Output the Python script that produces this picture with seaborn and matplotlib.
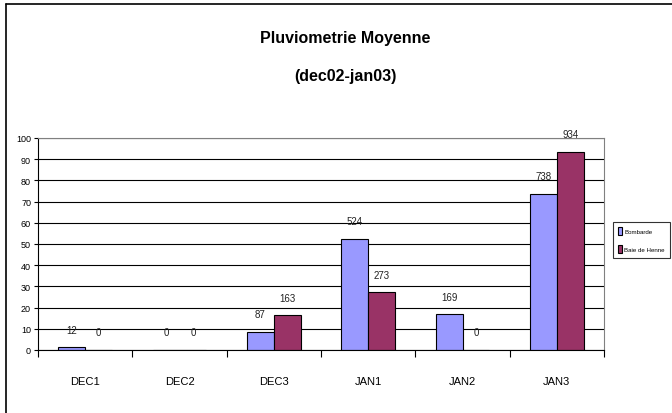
import matplotlib
matplotlib.use("Agg")
import matplotlib.pyplot as plt
import seaborn as sns
import pandas as pd
from matplotlib.lines import Line2D

categories = ["DEC1", "DEC2", "DEC3", "JAN1", "JAN2", "JAN3"]
series_names = ["Bombarde", "Baie de Henne"]
bombarde = [1.2, 0, 8.7, 52.4, 16.9, 73.8]
baie_de_henne = [0, 0, 16.3, 27.3, 0, 93.4]
bombarde_labels = ["12", "0", "87", "524", "169", "738"]
baie_labels = ["0", "0", "163", "273", "0", "934"]
y_ticks = [0, 10, 20, 30, 40, 50, 60, 70, 80, 90, 100]

df = pd.DataFrame({
    "cat": categories * 2,
    "serie": [series_names[0]] * 6 + [series_names[1]] * 6,
    "val": bombarde + baie_de_henne,
})

sns.set_style("white")
plt.rcParams["font.family"] = ["Liberation Sans Narrow", "Liberation Sans", "DejaVu Sans"]
plt.rcParams["text.color"] = "black"
plt.rcParams["xtick.color"] = "black"
plt.rcParams["ytick.color"] = "black"

fig = plt.figure(figsize=(6.72, 4.14), dpi=100)
ax = fig.add_axes([38 / 672, 1 - 351 / 414, (604 - 38) / 672, (351 - 139) / 414])

sns.barplot(data=df, x="cat", y="val", hue="serie", order=categories,
            hue_order=series_names, palette=["#9999FF", "#993366"],
            width=0.57, edgecolor="black", linewidth=0.8, ax=ax, legend=True,
            saturation=1)

for cont, labs in zip(ax.containers, [bombarde_labels, baie_labels]):
    ax.bar_label(cont, labels=labs, padding=9, fontsize=7, color="#222222")

ax.set_ylim(0, 100)
ax.set_xlim(-0.5, 5.5)
ax.set_yticks(y_ticks)
ax.yaxis.grid(True, color="black", linewidth=0.8)
ax.set_axisbelow(True)
ax.set_xlabel("")
ax.set_ylabel("")
ax.tick_params(axis="y", length=3, width=0.8, labelsize=6.5, pad=2, left=True, color="black")
ax.set_xticks(range(len(categories)))
ax.set_xticklabels(categories)
ax.set_xticks([i - 0.5 for i in range(len(categories) + 1)], minor=True)
ax.tick_params(axis="x", which="major", length=0, labelsize=8, pad=19)
ax.tick_params(axis="x", which="minor", length=5, width=0.8, color="black", bottom=True)
for s in ["left", "bottom"]:
    ax.spines[s].set_color("black")
    ax.spines[s].set_linewidth(0.8)
for s in ["top", "right"]:
    ax.spines[s].set_color("#808080")
    ax.spines[s].set_linewidth(0.8)
    ax.spines[s].set_visible(True)

handles, labels = ax.get_legend_handles_labels()
ax.get_legend().remove()
leg = fig.legend(handles, labels, loc="center left",
                 bbox_to_anchor=(613 / 672, 1 - 241 / 414), frameon=True,
                 fancybox=False, edgecolor="black", fontsize=4.4,
                 handlelength=0.75, handleheight=1.6, handletextpad=0.3,
                 borderpad=0.8, labelspacing=1.7, borderaxespad=0)
leg.get_frame().set_linewidth(0.8)

fig.text(345 / 672, 1 - 38 / 414, "Pluviometrie Moyenne", ha="center", va="center",
         fontsize=11.5, fontweight="bold")
fig.text(345 / 672, 1 - 77 / 414, "(dec02-jan03)", ha="center", va="center",
         fontsize=11.5, fontweight="bold")

fig.add_artist(Line2D([6 / 672, 6 / 672], [0, 1 - 5 / 414], transform=fig.transFigure,
                      color="black", linewidth=1.2))
fig.add_artist(Line2D([6 / 672, 1], [1 - 5 / 414, 1 - 5 / 414], transform=fig.transFigure,
                      color="black", linewidth=1.2))

fig.savefig("out.png", dpi=100)
